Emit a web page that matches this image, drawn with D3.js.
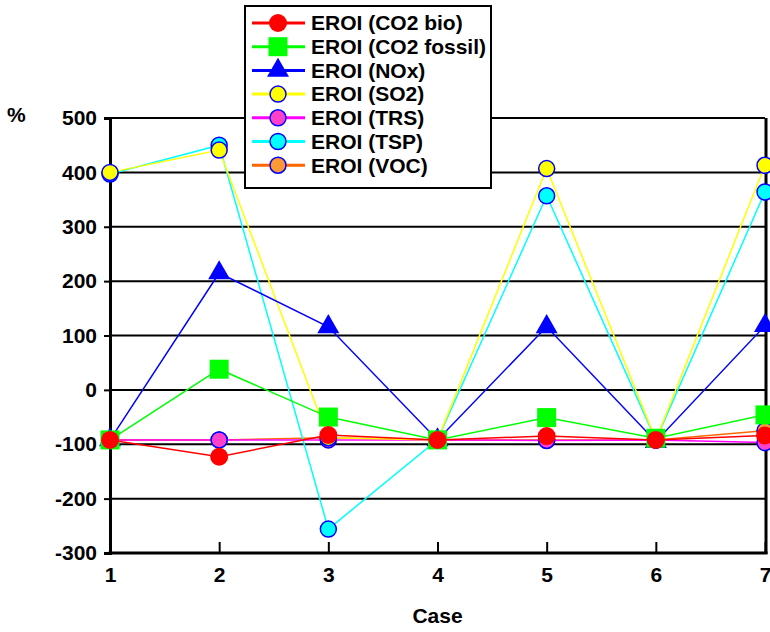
<!DOCTYPE html>
<html>
<head>
<meta charset="utf-8">
<script src="https://d3js.org/d3.v7.min.js"></script>
<style>
body { margin: 0; background: #fff; }
text { font-family: "Liberation Sans", Arial, sans-serif; font-weight: bold; }
</style>
</head>
<body>
<div id="chart"></div>
<script>
// data
const cases = [1, 2, 3, 4, 5, 6, 7];
const co2Bio    = [-92, -123, -83, -92, -85, -92, -84];
const co2Fossil = [-92, 38, -50, -92, -51, -89, -46];
const nox       = [-92, 215, 116, -92, 116, -95, 118];
const so2       = [400, 441, -88, -92, 407, -92, 413];
const trs       = [-92, -92, -92, -92, -93, -92, -97];
const tsp       = [397, 450, -256, -92, 357, -92, 364];
const voc       = [-92, -92, -88, -92, -92, -92, -75];
const yTicks = [-300, -200, -100, 0, 100, 200, 300, 400, 500];

const series = [
  {name: "EROI (CO2 bio)", values: co2Bio, line: "#ff0000", fill: "#ff0000", stroke: "none", shape: "circle", r: 9},
  {name: "EROI (CO2 fossil)", values: co2Fossil, line: "#00ff00", fill: "#00ff00", stroke: "none", shape: "square"},
  {name: "EROI (NOx)", values: nox, line: "#0000ff", fill: "#0000ff", stroke: "none", shape: "triangle"},
  {name: "EROI (SO2)", values: so2, line: "#ffff00", fill: "#ffff00", stroke: "#0000ff", shape: "circle", r: 8},
  {name: "EROI (TRS)", values: trs, line: "#ff00ff", fill: "#ff40c8", stroke: "#0000ff", shape: "circle", r: 8},
  {name: "EROI (TSP)", values: tsp, line: "#00ffff", fill: "#00ffff", stroke: "#0000ff", shape: "circle", r: 8},
  {name: "EROI (VOC)", values: voc, line: "#ff6600", fill: "#ff9933", stroke: "#0000ff", shape: "circle", r: 8}
];

const width = 770, height = 632;
const fontSize = "21px";
const svg = d3.select("#chart").append("svg")
  .attr("width", width).attr("height", height);

const x = d3.scaleLinear().domain([1, 7]).range([110, 765]);
const y = d3.scaleLinear().domain([-300, 500]).range([553, 118]);

// gridlines
svg.append("g").selectAll("line")
  .data(yTicks.filter(d => d > -300))
  .join("line")
  .attr("x1", x(1)).attr("x2", x(7))
  .attr("y1", d => y(d)).attr("y2", d => y(d))
  .attr("stroke", "#000").attr("stroke-width", 2);

// right border
svg.append("line")
  .attr("x1", x(7) + 1).attr("x2", x(7) + 1)
  .attr("y1", y(500)).attr("y2", y(-300) + 1)
  .attr("stroke", "#000").attr("stroke-width", 3);

// axes
const yAxis = svg.append("g")
  .attr("transform", `translate(${x(1)},0)`)
  .call(d3.axisLeft(y).tickValues(yTicks).tickSize(6).tickPadding(7).tickFormat(d => String(d)));
const xAxis = svg.append("g")
  .attr("transform", `translate(0,${y(-300)})`)
  .call(d3.axisBottom(x).tickValues(cases).tickSizeInner(-11).tickSizeOuter(0).tickPadding(14).tickFormat(d => String(d)));

[yAxis, xAxis].forEach(a => {
  a.select(".domain").attr("stroke", "#000").attr("stroke-width", 3);
  a.selectAll(".tick line").attr("stroke", "#000").attr("stroke-width", 2);
  a.selectAll("text").attr("fill", "#000").style("font-size", fontSize);
});
xAxis.select(".domain").attr("d", `M${x(1) - 1.5},0H${x(7) + 2.5}`);

svg.append("text").attr("x", 7).attr("y", 122).style("font-size", fontSize).text("%");
svg.append("text").attr("x", (x(1) + x(7)) / 2).attr("y", 623)
  .attr("text-anchor", "middle").style("font-size", fontSize).text("Case");

function drawMarker(g, s) {
  if (s.shape === "circle") {
    g.append("circle").attr("r", s.r).attr("fill", s.fill)
      .attr("stroke", s.stroke).attr("stroke-width", s.stroke === "none" ? 0 : 1.5);
  } else if (s.shape === "square") {
    g.append("rect").attr("x", -9.5).attr("y", -9.5).attr("width", 19).attr("height", 19).attr("fill", s.fill);
  } else {
    g.append("path").attr("d", d3.symbol(d3.symbolTriangle, 210)()).attr("fill", s.fill);
  }
}

const line = d3.line().x((d, i) => x(cases[i])).y(d => y(d));

// draw series last-to-first so CO2 bio ends on top
series.slice().reverse().forEach(s => {
  const g = svg.append("g");
  g.append("path").attr("d", line(s.values))
    .attr("fill", "none").attr("stroke", s.line).attr("stroke-width", 1.5);
  s.values.forEach((v, i) => {
    const m = g.append("g").attr("transform", `translate(${x(cases[i])},${y(v)})`);
    drawMarker(m, s);
  });
});

// legend
const legend = svg.append("g");
legend.append("rect").attr("x", 245).attr("y", 6).attr("width", 246).attr("height", 182)
  .attr("fill", "#fff").attr("stroke", "#000").attr("stroke-width", 2);
series.forEach((s, i) => {
  const ly = 23 + i * 23.7;
  legend.append("line").attr("x1", 252).attr("x2", 305).attr("y1", ly).attr("y2", ly)
    .attr("stroke", s.line).attr("stroke-width", 3);
  drawMarker(legend.append("g").attr("transform", `translate(278,${ly})`), s);
  legend.append("text").attr("x", 311).attr("y", ly).attr("dy", "0.35em")
    .style("font-size", fontSize).text(s.name);
});
</script>
</body>
</html>
